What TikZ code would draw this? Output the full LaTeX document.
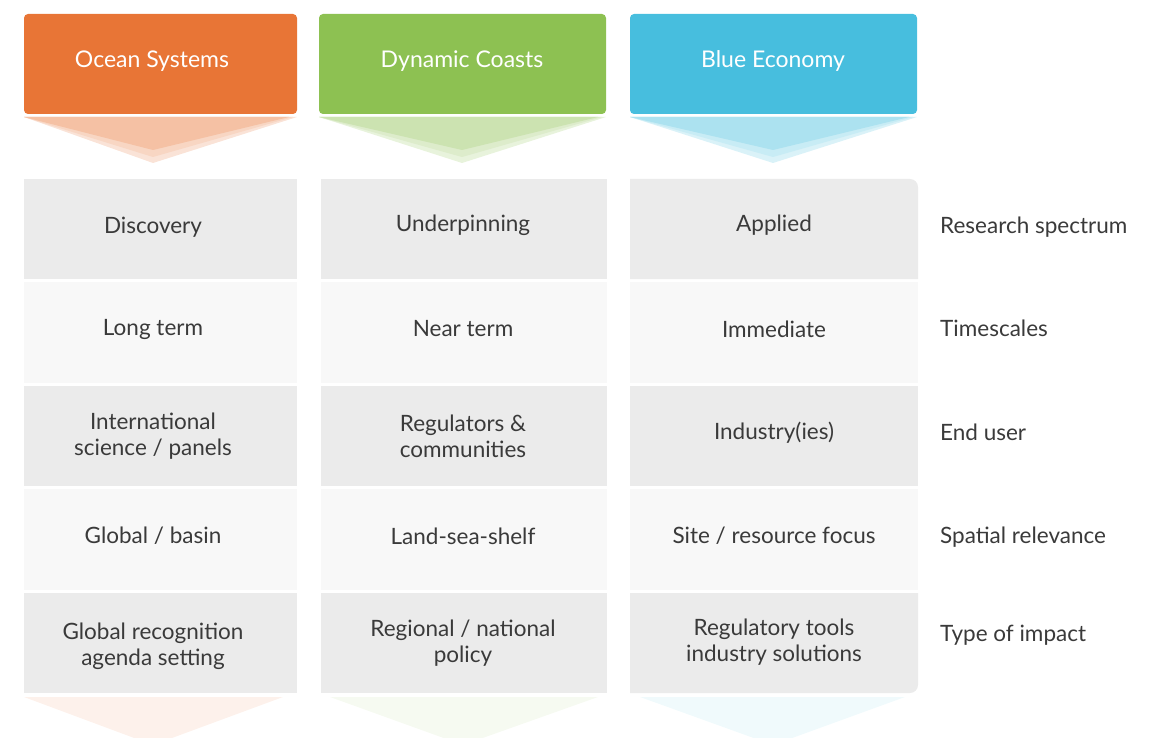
\documentclass[tikz,border=0pt]{standalone}
\usepackage{fontspec}
\setmainfont{Lato}
\definecolor{orangeH}{HTML}{E87536}
\definecolor{greenH}{HTML}{8DC152}
\definecolor{blueH}{HTML}{47BEDE}
\definecolor{cellA}{HTML}{EBEBEB}
\definecolor{cellB}{HTML}{F8F8F8}
\definecolor{txt}{HTML}{3A3A3A}
\tikzset{
  hdrtxt/.style={text=white, font=\fontsize{23}{27}\selectfont, inner sep=0pt},
  celltxt/.style={text=txt, align=center, font=\fontsize{22.5}{26}\selectfont, inner sep=0pt, yshift=-2pt},
  rowlbl/.style={text=txt, anchor=west, font=\fontsize{22.5}{26}\selectfont, inner sep=0pt, text height=16pt, text depth=5pt, yshift=-2pt}
}
\begin{document}
\begin{tikzpicture}[x=1pt,y=-1pt]
\useasboundingbox (0,0) rectangle (1164,738);
% headers
\fill[orangeH, rounded corners=4pt] (24,14) rectangle (297,114);
\fill[greenH, rounded corners=4pt] (319,14) rectangle (606,114);
\fill[blueH, rounded corners=4pt] (630,14) rectangle (917,114);
\node[hdrtxt] (h1) at (152,61) {Ocean Systems};
\node[hdrtxt] (h2) at (462,61) {Dynamic Coasts};
\node[hdrtxt] (h3) at (773,61) {Blue Economy};
% header chevrons
\foreach \l/\r/\c/\col in {24/297/153/orangeH, 319/606/462/greenH, 630/917/773/blueH}{
  \fill[\col!20] (\l,117) -- (\r,117) -- (\c,163) -- cycle;
  \fill[\col!30] (\l,117) -- (\r-4,117) -- (\c,157) -- cycle;
  \fill[\col!45] (\l,117) -- (\r-8,117) -- (\c,150) -- cycle;
}
% bottom chevrons
\fill[orangeH!10] (24,697) -- (283,697) -- (153,745) -- cycle;
\fill[greenH!8] (330,697) -- (598,697) -- (463,745) -- cycle;
\fill[blueH!8] (640,697) -- (905,697) -- (773,745) -- cycle;
% cell backgrounds
\foreach \l/\r in {24/297, 321/607}{
  \fill[cellA] (\l,179) rectangle (\r,279);
  \fill[cellB] (\l,282) rectangle (\r,383);
  \fill[cellA] (\l,386) rectangle (\r,486);
  \fill[cellB] (\l,489) rectangle (\r,590);
  \fill[cellA] (\l,593) rectangle (\r,693);
}
\fill[cellA] (630,179) -- (910,179) arc[start angle=-90,end angle=0,radius=8] -- (918,279) -- (630,279) -- cycle;
\fill[cellB] (630,282) rectangle (918,383);
\fill[cellA] (630,386) rectangle (918,486);
\fill[cellB] (630,489) rectangle (918,590);
\fill[cellA] (630,593) -- (918,593) -- (918,685) arc[start angle=0,end angle=90,radius=8] -- (630,693) -- cycle;
% cell texts column 1
\node[celltxt] (c11) at (153,225) {Discovery};
\node[celltxt] (c12) at (153,327) {Long term};
\node[celltxt] (c13) at (153,434) {International\\science / panels};
\node[celltxt] (c14) at (153,534) {Global / basin};
\node[celltxt] (c15) at (153,644) {Global recognition\\agenda setting};
% column 2
\node[celltxt] (c21) at (463,223) {Underpinning};
\node[celltxt] (c22) at (463,327) {Near term};
\node[celltxt] (c23) at (463,434) {Regulators \&\\communities};
\node[celltxt] (c24) at (463,534) {Land-sea-shelf};
\node[celltxt] (c25) at (463,641) {Regional / national\\policy};
% column 3
\node[celltxt] (c31) at (774,223) {Applied};
\node[celltxt] (c32) at (774,327) {Immediate};
\node[celltxt] (c33) at (774,431) {Industry(ies)};
\node[celltxt] (c34) at (774,534) {Site / resource focus};
\node[celltxt] (c35) at (774,640) {Regulatory tools\\industry solutions};
% row labels
\node[rowlbl] (r1) at (940,226) {Research spectrum};
\node[rowlbl] (r2) at (940,329) {Timescales};
\node[rowlbl] (r3) at (940,433) {End user};
\node[rowlbl] (r4) at (940,536) {Spatial relevance};
\node[rowlbl] (r5) at (940,634) {Type of impact};
\end{tikzpicture}
\end{document}
